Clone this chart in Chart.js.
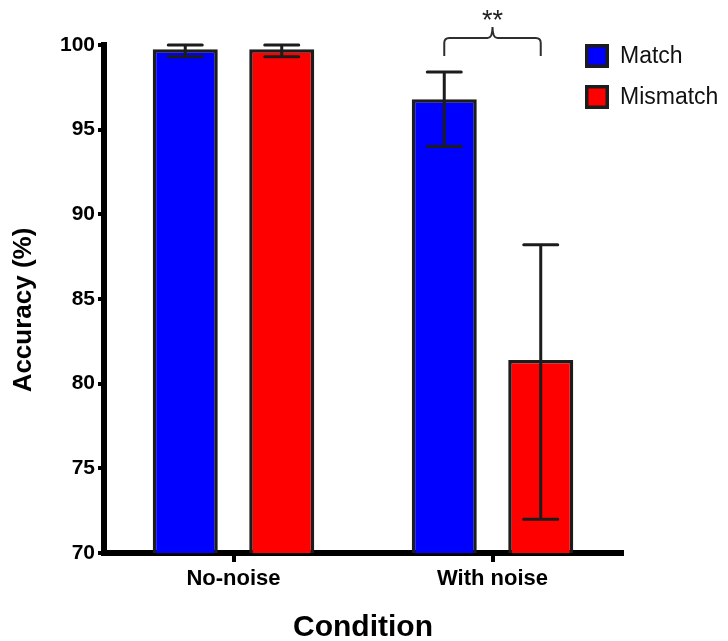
<!DOCTYPE html>
<html>
<head>
<meta charset="utf-8">
<script src="https://cdn.jsdelivr.net/npm/chart.js@4"></script>
<style>
  html, body { margin: 0; padding: 0; background: #fff; }
  #chart { display: block; }
</style>
</head>
<body>
<canvas id="chart" width="728" height="641"></canvas>
<script>
// accuracy per condition, match vs mismatch trials
var conditions = ["No-noise", "With noise"];
var matchMean = [99.75, 96.8];
var mismatchMean = [99.75, 81.4];
// error bar ends
var matchLow = [99.3, 94.0];
var matchHigh = [100.0, 98.4];
var mismatchLow = [99.3, 72.0];
var mismatchHigh = [100.0, 88.2];
var yTicks = [70, 75, 80, 85, 90, 95, 100];

var FONT = "'Liberation Sans', Arial, sans-serif";
var INK = "#1c1c1c";

var errorBars = {
  id: "errorBars",
  afterDatasetsDraw: function(chart) {
    var ctx = chart.ctx;
    var y = chart.scales.y;
    var ends = [[matchLow, matchHigh], [mismatchLow, mismatchHigh]];
    ctx.save();
    ctx.strokeStyle = INK;
    ctx.lineWidth = 3;
    ctx.lineCap = "round";
    ends.forEach(function(pair, d) {
      chart.getDatasetMeta(d).data.forEach(function(bar, i) {
        var lo = y.getPixelForValue(pair[0][i]);
        var hi = y.getPixelForValue(pair[1][i]);
        var half = 17;
        ctx.beginPath();
        ctx.moveTo(bar.x, lo); ctx.lineTo(bar.x, hi);
        ctx.moveTo(bar.x - half, lo); ctx.lineTo(bar.x + half, lo);
        ctx.moveTo(bar.x - half, hi); ctx.lineTo(bar.x + half, hi);
        ctx.stroke();
      });
    });
    ctx.restore();
  },
  afterDraw: function(chart) {
    var ctx = chart.ctx;
    var area = chart.chartArea;
    ctx.save();

    // y axis title, sits a bit below the plot's middle
    ctx.save();
    ctx.translate(24, (area.top + area.bottom) / 2 + 11);
    ctx.rotate(-Math.PI / 2);
    ctx.fillStyle = "#000";
    ctx.font = "bold 26px " + FONT;
    ctx.textAlign = "center";
    ctx.textBaseline = "middle";
    ctx.fillText("Accuracy (%)", 0, 0);
    ctx.restore();

    // significance brace over the noisy condition
    var x1 = chart.getDatasetMeta(0).data[1].x;
    var x2 = chart.getDatasetMeta(1).data[1].x;
    var xm = (x1 + x2) / 2;
    var yb = 38, r = 5;
    ctx.strokeStyle = "#2e2e2e";
    ctx.lineWidth = 2;
    ctx.beginPath();
    ctx.moveTo(x1, 56);
    ctx.lineTo(x1, yb + r);
    ctx.quadraticCurveTo(x1, yb, x1 + r, yb);
    ctx.lineTo(xm - r, yb);
    ctx.quadraticCurveTo(xm, yb, xm, yb - 11);
    ctx.quadraticCurveTo(xm, yb, xm + r, yb);
    ctx.lineTo(x2 - r, yb);
    ctx.quadraticCurveTo(x2, yb, x2, yb + r);
    ctx.lineTo(x2, 56);
    ctx.stroke();
    ctx.fillStyle = "#222";
    ctx.font = "27px " + FONT;
    ctx.textAlign = "center";
    ctx.textBaseline = "alphabetic";
    ctx.fillText("**", xm, 29);

    // legend
    ctx.textAlign = "left";
    ctx.textBaseline = "middle";
    ctx.font = "23px " + FONT;
    chart.data.datasets.forEach(function(ds, i) {
      var top = 44 + i * 41;
      ctx.fillStyle = ds.backgroundColor;
      ctx.fillRect(585, top, 24, 24);
      ctx.strokeStyle = INK;
      ctx.lineWidth = 3.5;
      ctx.strokeRect(586.75, top + 1.75, 20.5, 20.5);
      ctx.fillStyle = "#111";
      ctx.fillText(ds.label, 620, top + 13);
    });
    ctx.restore();
  }
};

new Chart(document.getElementById("chart"), {
  type: "bar",
  data: {
    labels: conditions,
    datasets: [{
      label: "Match",
      data: matchMean,
      backgroundColor: "#0000ff",
      borderColor: INK,
      borderWidth: 3.5,
      borderSkipped: false
    }, {
      label: "Mismatch",
      data: mismatchMean,
      backgroundColor: "#ff0000",
      borderColor: INK,
      borderWidth: 3.5,
      borderSkipped: false
    }]
  },
  options: {
    responsive: false,
    animation: false,
    categoryPercentage: 0.745,
    barPercentage: 0.674,
    layout: { padding: { top: 45, right: 106, bottom: 0, left: 0 } },
    plugins: {
      legend: { display: false },
      tooltip: { enabled: false }
    },
    scales: {
      x: {
        afterFit: function(s) { s.height = 88; },
        grid: { offset: false, drawOnChartArea: false, tickLength: 9, lineWidth: 4, color: "#000" },
        border: { width: 6, color: "#000" },
        ticks: { padding: 4, color: "#000", font: { family: FONT, size: 22, weight: "bold" } },
        title: {
          display: true, text: "Condition", color: "#000",
          font: { family: FONT, size: 30, weight: "bold", lineHeight: 1.0 },
          padding: { top: 0, bottom: -2 }
        }
      },
      y: {
        min: 70, max: 100,
        afterFit: function(s) { s.width = 104; },
        afterBuildTicks: function(s) { s.ticks = yTicks.map(function(v) { return { value: v }; }); },
        grid: { drawOnChartArea: false, tickLength: 6, lineWidth: 4, color: "#000" },
        border: { width: 6, color: "#000" },
        ticks: { padding: 3, color: "#000", font: { family: FONT, size: 21, weight: "bold" } },
        title: { display: false }
      }
    }
  },
  plugins: [errorBars]
});
</script>
</body>
</html>
